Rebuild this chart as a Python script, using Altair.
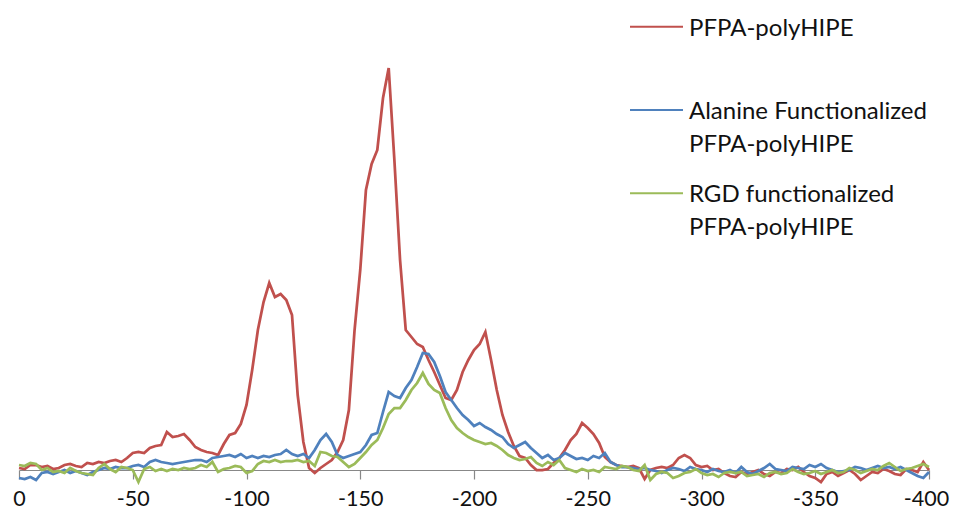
import altair as alt
import pandas as pd

# chemical shift (ppm), 0 to -400 in steps of 2.5
shift = [-(i * 2.5) for i in range(161)]

pfpa = [2, 1, 5, 5, 3, 4, 1, 2, 5, 6, 4, 3, 7, 6, 8, 7, 9, 10, 8, 12,
        17, 18, 17, 22, 24, 25, 38, 33, 34, 36, 30, 23, 20, 18, 17, 15, 26, 35, 37, 46,
        65, 100, 140, 168, 187, 173, 176, 170, 155, 75, 28, 2, -3, 2, 6, 10, 18, 30, 60, 140,
        200, 280, 306, 320, 372, 402, 310, 210, 140, 133, 126, 123, 110, 98, 85, 72, 70, 80, 98, 110,
        120, 126, 138, 110, 80, 55, 38, 24, 14, 12, 5, 0, 0, 1, 7, 12, 20, 30, 36, 47,
        42, 36, 27, 13, 8, 5, 4, 3, 4, 2, -9, 0, 2, 3, 2, 5, 12, 15, 12, 5,
        3, 4, 0, 1, -3, -6, -7, -2, -4, -2, 0, -4, -6, -2, -3, 1, 0, 3, -2, -6,
        -8, -12, -4, -2, -6, -3, 0, -4, -10, -6, -2, -3, 1, -1, -4, -5, 1, 0, -2, 8,
        0]

alanine = [-8, -9, -7, -10, -3, -2, -4, -2, 0, -3, -1, -3, -5, -2, 0, 2, 1, 3, 2, 2,
           4, 5, 3, 8, 10, 8, 7, 6, 7, 8, 9, 10, 10, 8, 12, 13, 14, 15, 13, 16,
           12, 14, 12, 14, 13, 15, 16, 20, 16, 14, 16, 12, 20, 30, 36, 28, 15, 12, 14, 16,
           18, 25, 35, 37, 58, 78, 74, 72, 82, 90, 103, 117, 116, 108, 94, 78, 70, 62, 55, 50,
           44, 47, 43, 40, 36, 33, 26, 22, 25, 28, 22, 17, 12, 15, 10, 12, 17, 14, 11, 12,
           10, 14, 12, 17, 8, 5, 3, 3, 2, 1, 2, 0, -1, -3, 0, 2, 1, -1, 3, 1,
           0, -2, 1, -1, -2, 0, -3, 3, -2, -4, -1, 2, 6, 1, 0, -1, 3, 2, 1, 5,
           3, 6, 2, 0, -2, -1, 0, 3, 2, 0, 2, 4, 2, 3, 1, 3, 0, -3, -6, -8,
           -2]

rgd = [5, 4, 7, 6, 0, 2, -2, -1, -3, 2, -1, -3, -4, -5, 2, 6, 1, -2, 3, 2,
       0, -12, 1, 3, -1, 1, -1, 1, 0, 2, 1, 2, 5, 3, 8, -2, 1, 2, 4, 3,
       -3, -1, 6, 9, 8, 10, 8, 9, 9, 10, 8, 9, 4, 18, 17, 14, 13, 8, 3, 6,
       12, 18, 25, 30, 42, 56, 62, 62, 70, 80, 87, 97, 86, 80, 77, 62, 50, 42, 37, 33,
       30, 28, 26, 27, 24, 20, 15, 12, 10, 11, 13, 7, 4, 8, 5, 10, 2, 0, -2, 1,
       -1, 0, -2, 3, 2, 1, 4, 3, 0, -1, 5, -10, -4, -2, -3, -8, -6, -3, -2, 1,
       -3, -5, -4, -7, -3, -2, -3, -2, -6, -5, -4, -7, -3, -2, -4, -3, 1, -2, -4, -3,
       -1, -4, -2, 0, -3, -2, 2, 0, -3, -1, 1, 0, 4, 7, 3, -1, 1, 2, 4, 6,
       3]

series_names = ["PFPA-polyHIPE",
                "Alanine Functionalized PFPA-polyHIPE",
                "RGD functionalized PFPA-polyHIPE"]
legend_lines = [["PFPA-polyHIPE"],
                ["Alanine Functionalized", "PFPA-polyHIPE"],
                ["RGD functionalized", "PFPA-polyHIPE"]]
colors = ["#C0504D", "#4F81BD", "#9BBB59"]
x_ticks = [0, -50, -100, -150, -200, -250, -300, -350, -400]

frames = []
for name, vals in zip(series_names, [pfpa, alanine, rgd]):
    frames.append(pd.DataFrame({"shift": shift, "intensity": vals, "series": name}))
df = pd.concat(frames, ignore_index=True)

FONT = "Lato"
W, H = 910, 450

lines = alt.Chart(df).mark_line(strokeWidth=2.75).encode(
    x=alt.X("shift:Q",
            scale=alt.Scale(domain=[0, -400], nice=False, zero=False),
            axis=alt.Axis(values=x_ticks, title=None, grid=False,
                          labelExpr="'' + datum.value",
                          labelOffset={"condition": {"test": "datum.value == -400", "value": -3},
                                       "value": 0},
                          domainColor="#888888", domainWidth=1.2,
                          tickColor="#888888", tickSize=9, tickWidth=1.2,
                          labelFont=FONT, labelFontSize=21.5, labelColor="#111111",
                          labelPadding=9, labelFlush=False, labelOverlap=False)),
    y=alt.Y("intensity:Q", scale=alt.Scale(domain=[0, 450], nice=False, zero=False),
            axis=None),
    color=alt.Color("series:N", scale=alt.Scale(domain=series_names, range=colors),
                    legend=None),
    detail="series:N",
)

# legend drawn as rule + text layers
one = pd.DataFrame({"k": [0]})
sym_y = [6.7, 90, 173.3]
txt_y = [15.7, 99, 182]
legend_layers = []
for i in range(3):
    legend_layers.append(
        alt.Chart(one).mark_rule(color=colors[i], strokeWidth=2).encode(
            x=alt.value(611), x2=alt.value(664), y=alt.value(sym_y[i]))
    )
    legend_layers.append(
        alt.Chart(one).mark_text(align="left", baseline="alphabetic", font=FONT,
                                 fontSize=24, color="#111111", lineHeight=33,
                                 lineBreak="\n").encode(
            x=alt.value(670), y=alt.value(txt_y[i]),
            text=alt.value("\n".join(legend_lines[i])))
    )

chart = alt.layer(lines, *legend_layers).properties(
    width=W, height=H,
    autosize=alt.AutoSizeParams(type="none"),
    padding={"left": 11, "top": 12, "right": 22, "bottom": 39},
    background="white",
).configure_view(stroke=None)

chart.save("out.html", embed_options={"renderer": "svg", "actions": False})
